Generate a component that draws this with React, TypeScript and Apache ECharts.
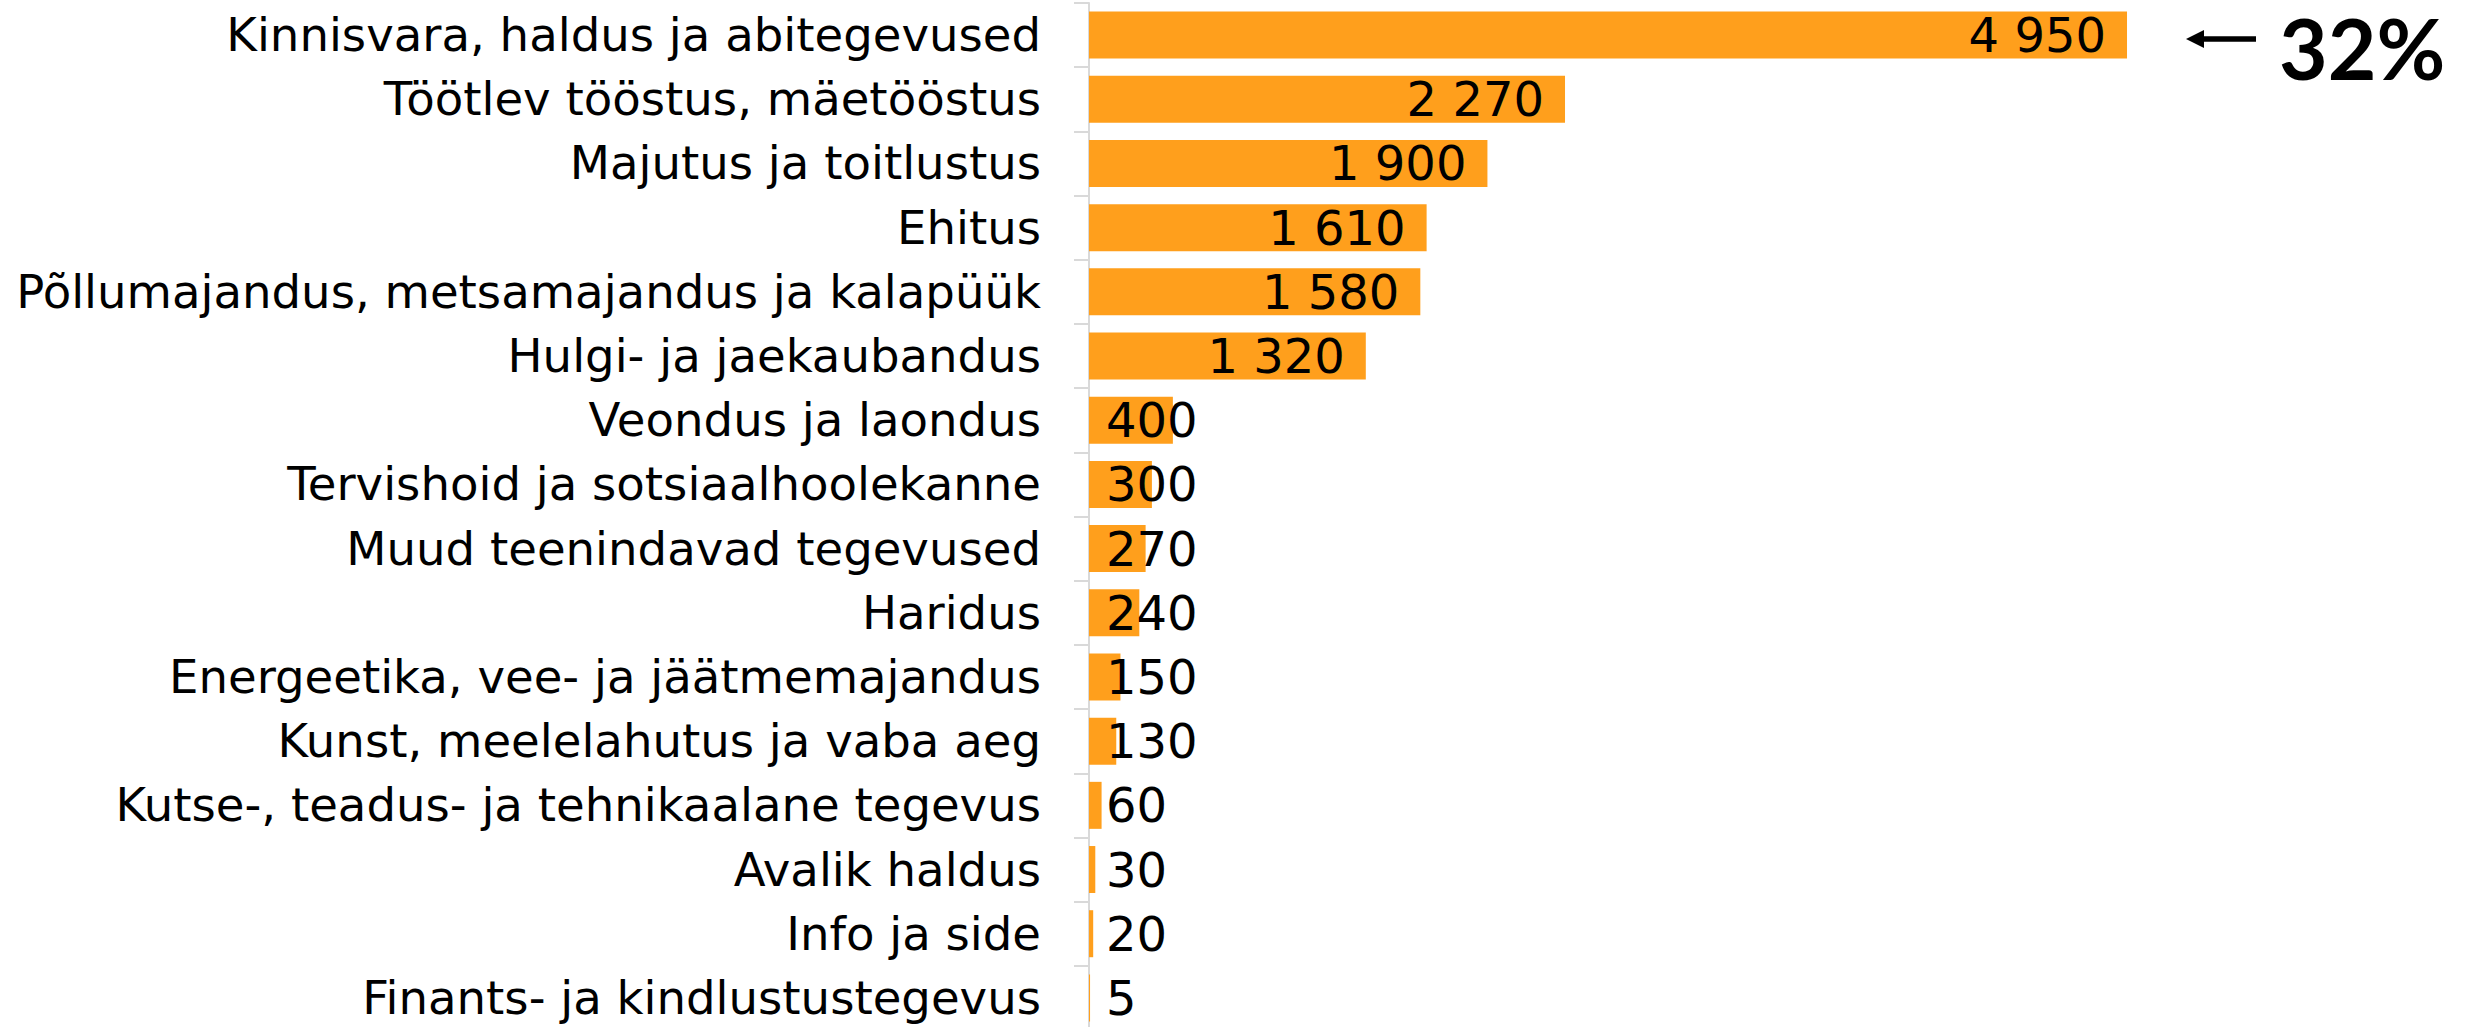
import React, { useEffect, useRef } from "react";
import * as echarts from "echarts";

const categories: string[] = [
  "Kinnisvara, haldus ja abitegevused",
  "Töötlev tööstus, mäetööstus",
  "Majutus ja toitlustus",
  "Ehitus",
  "Põllumajandus, metsamajandus ja kalapüük",
  "Hulgi- ja jaekaubandus",
  "Veondus ja laondus",
  "Tervishoid ja sotsiaalhoolekanne",
  "Muud teenindavad tegevused",
  "Haridus",
  "Energeetika, vee- ja jäätmemajandus",
  "Kunst, meelelahutus ja vaba aeg",
  "Kutse-, teadus- ja tehnikaalane tegevus",
  "Avalik haldus",
  "Info ja side",
  "Finants- ja kindlustustegevus",
];

const values: number[] = [4950, 2270, 1900, 1610, 1580, 1320, 400, 300, 270, 240, 150, 130, 60, 30, 20, 5];

const annotationText = "32%";

const fmt = (v: number) => {
  const s = String(Math.round(v));
  return s.replace(/\B(?=(\d{3})+(?!\d))/g, " ");
};

export default function App() {
  const ref = useRef<HTMLDivElement>(null);
  useEffect(() => {
    if (!ref.current) return;
    const chart = echarts.init(ref.current, null, { renderer: "svg" });
    const font = "'DejaVu Sans', sans-serif";
    chart.setOption({
      animation: false,
      grid: { left: 1089, right: 335.5, top: 3, height: 1027, containLabel: false },
      xAxis: { type: "value", min: 0, max: 5000, show: false },
      yAxis: {
        type: "category",
        data: categories,
        inverse: true,
        axisLine: { show: true, lineStyle: { color: "#d9d9d9", width: 2 } },
        axisTick: { show: true, length: 15, lineStyle: { color: "#d9d9d9", width: 2 } },
        axisLabel: { margin: 48, fontSize: 46.6, lineHeight: 46, fontFamily: font, color: "#000" },
        splitLine: { show: false },
      },
      series: [
        {
          type: "bar",
          barWidth: 47,
          data: values.map((v) => ({
            value: v,
            label: {
              show: true,
              position: v >= 1000 ? "insideRight" : "insideLeft",
              distance: v >= 1000 ? 21 : 17,
              formatter: (p: any) => fmt(p.value),
              fontSize: 48,
              lineHeight: 40,
              fontFamily: font,
              color: "#000",
            },
          })),
          itemStyle: { color: "#FF9F1C" },
        },
      ],
      graphic: [
        {
          type: "line",
          shape: { x1: 2200, y1: 39, x2: 2256, y2: 39 },
          style: { stroke: "#000", lineWidth: 5.5 },
        },
        {
          type: "polygon",
          shape: { points: [[2186, 39], [2204, 30], [2204, 48]] },
          style: { fill: "#000" },
        },
        {
          type: "text",
          x: 2279,
          y: 47,
          style: {
            text: annotationText,
            fontSize: 84,
            lineHeight: 64,
            fontWeight: "bold",
            fontFamily: "Lato, sans-serif",
            fill: "#000",
            textAlign: "left",
            textVerticalAlign: "middle",
          },
        },
      ],
    });
    return () => chart.dispose();
  }, []);
  return (
    <div style={{ position: "fixed", top: 0, left: 0, width: 2473, height: 1027, overflow: "hidden", background: "#fff" }}>
      <div ref={ref} style={{ width: 2473, height: 1040 }} />
    </div>
  );
}
